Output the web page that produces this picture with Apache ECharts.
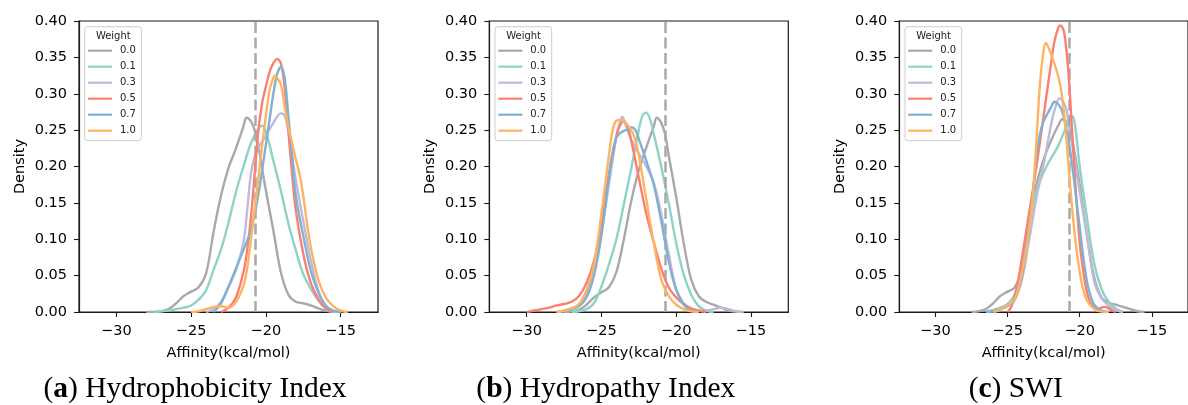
<!DOCTYPE html>
<html><head><meta charset="utf-8">
<script src="https://cdn.jsdelivr.net/npm/echarts@6/dist/echarts.min.js"></script>
<style>html,body{margin:0;padding:0;background:#fff}#c{width:1188px;height:405px}</style>
</head><body><div id="c"></div>
<script>
// ---------- DATA ----------
const weights = ['0.0', '0.1', '0.3', '0.5', '0.7', '1.0'];
const xTicks = [-30, -25, -20, -15];
const yTicks = [0, 0.05, 0.10, 0.15, 0.20, 0.25, 0.30, 0.35, 0.40];
const xLabel = 'Affinity(kcal/mol)';
const yLabel = 'Density';
const legendTitle = 'Weight';
const captionLetters = ['a', 'b', 'c'];
const captionTitles = ['Hydrophobicity Index', 'Hydropathy Index', 'SWI'];
const refLine = -20.73;

// (a) Hydrophobicity Index  [affinity, density]
const a_w00 = [[-28,0],[-27.5,0],[-27,0.001],[-26.5,0.004],[-26,0.012],[-25.5,0.022],[-25,0.028],[-24.5,0.034],[-24,0.053],[-23.5,0.11],[-23,0.16],[-22.5,0.198],[-22,0.225],[-21.5,0.255],[-21.3,0.267],[-21,0.262],[-20.75,0.25],[-20.5,0.228],[-20.25,0.197],[-20,0.167],[-19.5,0.112],[-19,0.055],[-18.5,0.024],[-18,0.014],[-17.5,0.012],[-17,0.009],[-16.5,0.005],[-16,0.002],[-15.5,0]];
const a_w01 = [[-27.5,0],[-27,0.001],[-26.5,0.002],[-26,0.004],[-25.5,0.006],[-25,0.009],[-24.5,0.017],[-24,0.03],[-23.5,0.058],[-23,0.086],[-22.5,0.123],[-22,0.165],[-21.5,0.2],[-21,0.232],[-20.5,0.252],[-20.25,0.256],[-20,0.248],[-19.5,0.208],[-19,0.167],[-18.5,0.122],[-18,0.085],[-17.5,0.052],[-17,0.032],[-16.5,0.016],[-16,0.005],[-15.5,0.001],[-15,0]];
const a_w03 = [[-24,0],[-23.5,0.004],[-23,0.014],[-22.5,0.034],[-22,0.058],[-21.5,0.096],[-21.25,0.14],[-21,0.19],[-20.75,0.213],[-20.5,0.226],[-20,0.242],[-19.5,0.26],[-19,0.273],[-18.75,0.27],[-18.5,0.25],[-18.25,0.215],[-18,0.182],[-17.5,0.125],[-17,0.072],[-16.5,0.03],[-16,0.008],[-15.5,0.001],[-15,0]];
const a_w05 = [[-23,0],[-22.5,0.006],[-22,0.02],[-21.5,0.055],[-21.25,0.085],[-21,0.13],[-20.75,0.19],[-20.5,0.25],[-20.25,0.287],[-20,0.31],[-19.75,0.33],[-19.5,0.342],[-19.25,0.348],[-19,0.342],[-18.75,0.31],[-18.5,0.25],[-18.25,0.19],[-18,0.14],[-17.5,0.08],[-17,0.04],[-16.5,0.018],[-16,0.005],[-15.5,0]];
const a_w07 = [[-23.5,0],[-23,0.012],[-22.5,0.035],[-22,0.06],[-21.5,0.085],[-21,0.113],[-20.75,0.135],[-20.5,0.162],[-20.25,0.195],[-20,0.23],[-19.75,0.265],[-19.5,0.3],[-19.25,0.327],[-19,0.337],[-18.75,0.322],[-18.5,0.27],[-18.25,0.215],[-18,0.16],[-17.5,0.105],[-17,0.057],[-16.5,0.027],[-16,0.009],[-15.5,0.002],[-15,0]];
const a_w10 = [[-25,0],[-24.5,0.001],[-24,0.004],[-23.5,0.007],[-23,0.008],[-22.5,0.006],[-22,0.014],[-21.5,0.036],[-21.25,0.06],[-21,0.1],[-20.75,0.14],[-20.5,0.185],[-20.25,0.228],[-20,0.27],[-19.75,0.305],[-19.5,0.322],[-19.4,0.325],[-19.25,0.322],[-19,0.313],[-18.75,0.283],[-18.5,0.255],[-18.25,0.233],[-18,0.21],[-17.75,0.19],[-17.5,0.16],[-17.25,0.122],[-17,0.09],[-16.5,0.045],[-16,0.02],[-15.5,0.008],[-15,0.002],[-14.5,0]];

// (b) Hydropathy Index
const b_w00 = [[-27.5,0],[-27,0.001],[-26.5,0.003],[-26,0.01],[-25.5,0.02],[-25,0.027],[-24.5,0.034],[-24,0.055],[-23.5,0.1],[-23,0.153],[-22.5,0.195],[-22,0.226],[-21.5,0.255],[-21.3,0.267],[-21,0.26],[-20.75,0.245],[-20.5,0.215],[-20,0.158],[-19.5,0.095],[-19,0.045],[-18.5,0.022],[-18,0.014],[-17.5,0.01],[-17,0.006],[-16.5,0.002],[-16,0.0005],[-15.5,0]];
const b_w01 = [[-27,0],[-26.5,0.001],[-26,0.004],[-25.5,0.012],[-25,0.035],[-24.5,0.065],[-24,0.1],[-23.5,0.148],[-23,0.198],[-22.5,0.25],[-22.25,0.27],[-22,0.274],[-21.75,0.265],[-21.5,0.245],[-21,0.2],[-20.5,0.15],[-20,0.095],[-19.5,0.052],[-19,0.024],[-18.5,0.008],[-18,0.002],[-17.5,0]];
const b_w03 = [[-28,0],[-27.5,0.002],[-27,0.005],[-26.5,0.01],[-26,0.025],[-25.5,0.06],[-25,0.11],[-24.5,0.175],[-24,0.24],[-23.75,0.262],[-23.6,0.268],[-23.4,0.258],[-23,0.236],[-22.5,0.218],[-22,0.2],[-21.5,0.178],[-21,0.135],[-20.5,0.08],[-20,0.032],[-19.5,0.012],[-19,0.004],[-18.5,0.002],[-18,0.002],[-17.5,0.004],[-17,0.006],[-16.5,0.004],[-16,0.001],[-15.5,0]];
const b_w05 = [[-30,0],[-29.5,0.002],[-29,0.004],[-28.5,0.006],[-28,0.009],[-27.5,0.011],[-27,0.014],[-26.5,0.022],[-26,0.04],[-25.5,0.07],[-25,0.12],[-24.5,0.19],[-24,0.242],[-23.75,0.257],[-23.5,0.262],[-23.25,0.255],[-23,0.235],[-22.5,0.185],[-22,0.135],[-21.5,0.096],[-21,0.06],[-20.5,0.034],[-20,0.02],[-19.5,0.011],[-19,0.005],[-18.5,0.002],[-18,0]];
const b_w07 = [[-28,0],[-27.5,0.001],[-27,0.004],[-26.5,0.008],[-26,0.02],[-25.5,0.05],[-25,0.105],[-24.5,0.185],[-24.25,0.22],[-24,0.24],[-23.75,0.246],[-23.5,0.249],[-23.25,0.251],[-23,0.254],[-22.75,0.251],[-22.5,0.238],[-22,0.208],[-21.5,0.175],[-21,0.125],[-20.5,0.07],[-20,0.03],[-19.5,0.01],[-19,0.002],[-18.5,0]];
const b_w10 = [[-28,0],[-27.5,0.002],[-27,0.005],[-26.5,0.011],[-26,0.03],[-25.5,0.065],[-25,0.135],[-24.75,0.175],[-24.5,0.215],[-24.25,0.25],[-24,0.263],[-23.75,0.264],[-23.5,0.262],[-23.25,0.257],[-23,0.25],[-22.75,0.238],[-22.5,0.215],[-22,0.155],[-21.5,0.095],[-21,0.045],[-20.5,0.022],[-20,0.01],[-19.5,0.004],[-19,0.001],[-18.5,0]];

// (c) SWI
const c_w00 = [[-27.5,0],[-27,0.001],[-26.5,0.004],[-26,0.012],[-25.5,0.022],[-25,0.028],[-24.5,0.034],[-24,0.06],[-23.5,0.12],[-23,0.175],[-22.5,0.21],[-22,0.235],[-21.5,0.256],[-21.2,0.265],[-21,0.263],[-20.75,0.255],[-20.5,0.235],[-20,0.175],[-19.5,0.105],[-19,0.048],[-18.5,0.02],[-18,0.013],[-17.5,0.01],[-17,0.007],[-16.5,0.004],[-16,0.001],[-15.5,0]];
const c_w01 = [[-26.5,0],[-26,0.003],[-25.5,0.006],[-25,0.011],[-24.5,0.024],[-24,0.062],[-23.5,0.13],[-23,0.167],[-22.5,0.192],[-22,0.211],[-21.5,0.228],[-21,0.252],[-20.75,0.266],[-20.6,0.27],[-20.4,0.265],[-20.25,0.245],[-20,0.2],[-19.5,0.13],[-19,0.067],[-18.5,0.032],[-18,0.014],[-17.5,0.005],[-17,0]];
const c_w03 = [[-26,0],[-25.5,0.003],[-25,0.009],[-24.5,0.017],[-24,0.045],[-23.5,0.1],[-23,0.157],[-22.5,0.203],[-22,0.256],[-21.75,0.277],[-21.4,0.294],[-21,0.283],[-20.75,0.258],[-20.5,0.228],[-20,0.165],[-19.5,0.105],[-19,0.042],[-18.5,0.019],[-18,0.009],[-17.5,0.003],[-17,0]];
const c_w05 = [[-25,0],[-24.75,0.007],[-24.5,0.022],[-24.25,0.045],[-24,0.075],[-23.5,0.137],[-23,0.2],[-22.5,0.27],[-22,0.34],[-21.75,0.372],[-21.5,0.39],[-21.35,0.394],[-21.1,0.386],[-20.9,0.355],[-20.75,0.32],[-20.5,0.24],[-20.25,0.16],[-20,0.095],[-19.75,0.055],[-19.5,0.027],[-19.25,0.012],[-19,0.006],[-18.75,0.004],[-18.5,0.006],[-18.25,0.007],[-18,0.005],[-17.75,0.002],[-17.5,0]];
const c_w07 = [[-26.5,0],[-26,0.001],[-25.5,0.004],[-25,0.008],[-24.5,0.017],[-24,0.05],[-23.75,0.083],[-23.5,0.118],[-23.25,0.162],[-23,0.215],[-22.75,0.245],[-22.5,0.262],[-22,0.281],[-21.75,0.289],[-21.5,0.286],[-21.25,0.278],[-21,0.258],[-20.75,0.233],[-20.5,0.198],[-20.25,0.157],[-20,0.116],[-19.75,0.075],[-19.5,0.042],[-19.25,0.022],[-19,0.01],[-18.5,0.002],[-18,0]];
const c_w10 = [[-26,0],[-25.5,0.004],[-25,0.009],[-24.5,0.018],[-24.25,0.033],[-24,0.055],[-23.75,0.08],[-23.5,0.115],[-23.25,0.16],[-23,0.235],[-22.75,0.315],[-22.5,0.36],[-22.35,0.37],[-22.2,0.365],[-22,0.355],[-21.75,0.341],[-21.5,0.325],[-21.25,0.3],[-21,0.255],[-20.75,0.195],[-20.5,0.137],[-20.25,0.09],[-20,0.055],[-19.75,0.03],[-19.5,0.016],[-19,0.004],[-18.5,0.0005],[-18,0]];

const panelSeries = [
  [a_w00, a_w01, a_w03, a_w05, a_w07, a_w10],
  [b_w00, b_w01, b_w03, b_w05, b_w07, b_w10],
  [c_w00, c_w01, c_w03, c_w05, c_w07, c_w10]
];

// ---------- STYLE / LAYOUT ----------
const colors = ['#a9a9a9', '#8dd3c7', '#bebada', '#fb8072', '#80b1d3', '#fdb462'];
const gridLefts = [79, 489.3, 899.3];
const gridWidth = 299;
const gridTop = 21, gridHeight = 291;
const captionCenters = [195, 605.8, 1015.8];
const sans = 'DejaVu Sans';
const axisColor = '#1a1a1a';

const fmtX = v => (v < 0 ? '\u2212' + Math.abs(v) : String(v));

const grids = [], xAxes = [], yAxes = [], series = [], legends = [], graphics = [];
panelSeries.forEach((arrs, p) => {
  grids.push({left: gridLefts[p], top: gridTop, width: gridWidth, height: gridHeight,
    show: true, borderColor: axisColor, borderWidth: 1.2, backgroundColor: 'transparent', containLabel: false});
  xAxes.push({type: 'value', gridIndex: p, min: -32.5, max: -12.5,
    axisLine: {show: true, onZero: false, lineStyle: {color: axisColor, width: 1.2}},
    axisTick: {show: true, inside: false, length: 5, lineStyle: {color: axisColor, width: 1.1}, customValues: xTicks},
    axisLabel: {show: true, customValues: xTicks, formatter: fmtX, color: '#000', fontFamily: sans, fontSize: 14.5, margin: 11.5},
    splitLine: {show: false},
    name: xLabel, nameLocation: 'middle', nameGap: 33.5,
    nameTextStyle: {color: '#000', fontFamily: sans, fontSize: 14.5}});
  yAxes.push({type: 'value', gridIndex: p, min: 0, max: 0.4,
    axisLine: {show: true, lineStyle: {color: axisColor, width: 1.2}},
    axisTick: {show: true, inside: false, length: 5, lineStyle: {color: axisColor, width: 1.1}, customValues: yTicks},
    axisLabel: {show: true, customValues: yTicks, formatter: v => v.toFixed(2), color: '#000', fontFamily: sans, fontSize: 14.5, margin: 12},
    splitLine: {show: false},
    name: yLabel, nameLocation: 'middle', nameGap: 51.5,
    nameTextStyle: {color: '#000', fontFamily: sans, fontSize: 14.5}});
  arrs.forEach((d, k) => {
    const s = {type: 'line', name: weights[k], xAxisIndex: p, yAxisIndex: p, data: d,
      smooth: 0.35, showSymbol: false, symbol: 'none', animation: false,
      lineStyle: {color: colors[k], width: 2.4}, itemStyle: {color: colors[k]},
      emphasis: {disabled: true}, z: 2 + k};
    if (k === arrs.length - 1) {
      s.markLine = {silent: true, symbol: 'none', label: {show: false}, animation: false,
        lineStyle: {type: [11, 4.5], color: '#a9a9a9', width: 2.5},
        emphasis: {disabled: true}, data: [{xAxis: refLine}]};
    }
    series.push(s);
  });
  const legLeft = gridLefts[p] + 5.7;
  legends.push({orient: 'vertical', left: legLeft, top: 26.7, data: weights,
    icon: 'rect', itemWidth: 24, itemHeight: 2.2, itemGap: 4,
    padding: [18, 5.5, 4, 3.3], borderColor: '#cccccc', borderWidth: 1, borderRadius: 3,
    backgroundColor: 'rgba(255,255,255,0.8)', selectedMode: false,
    textStyle: {fontFamily: sans, fontSize: 10, color: '#222', lineHeight: 12, padding: [0, 0, 0, 3]}});
  graphics.push({type: 'text', x: legLeft + 28.6, y: 36, z: 100,
    style: {text: legendTitle, fontFamily: sans, fontSize: 10, fill: '#222', align: 'center', verticalAlign: 'middle'}});
  graphics.push({type: 'text', x: captionCenters[p], y: 389.5, z: 100,
    style: {text: '({b|' + captionLetters[p] + '}) ' + captionTitles[p],
      fontFamily: 'Liberation Serif', fontSize: 29.5, fill: '#000', align: 'center', verticalAlign: 'middle',
      rich: {b: {fontFamily: 'Liberation Serif', fontSize: 29.5, fontWeight: 'bold', fill: '#000'}}}});
});

const chart = echarts.init(document.getElementById('c'), null, {renderer: 'canvas'});
chart.setOption({
  animation: false,
  backgroundColor: '#ffffff',
  grid: grids, xAxis: xAxes, yAxis: yAxes, series: series, legend: legends, graphic: graphics
});
</script></body></html>
